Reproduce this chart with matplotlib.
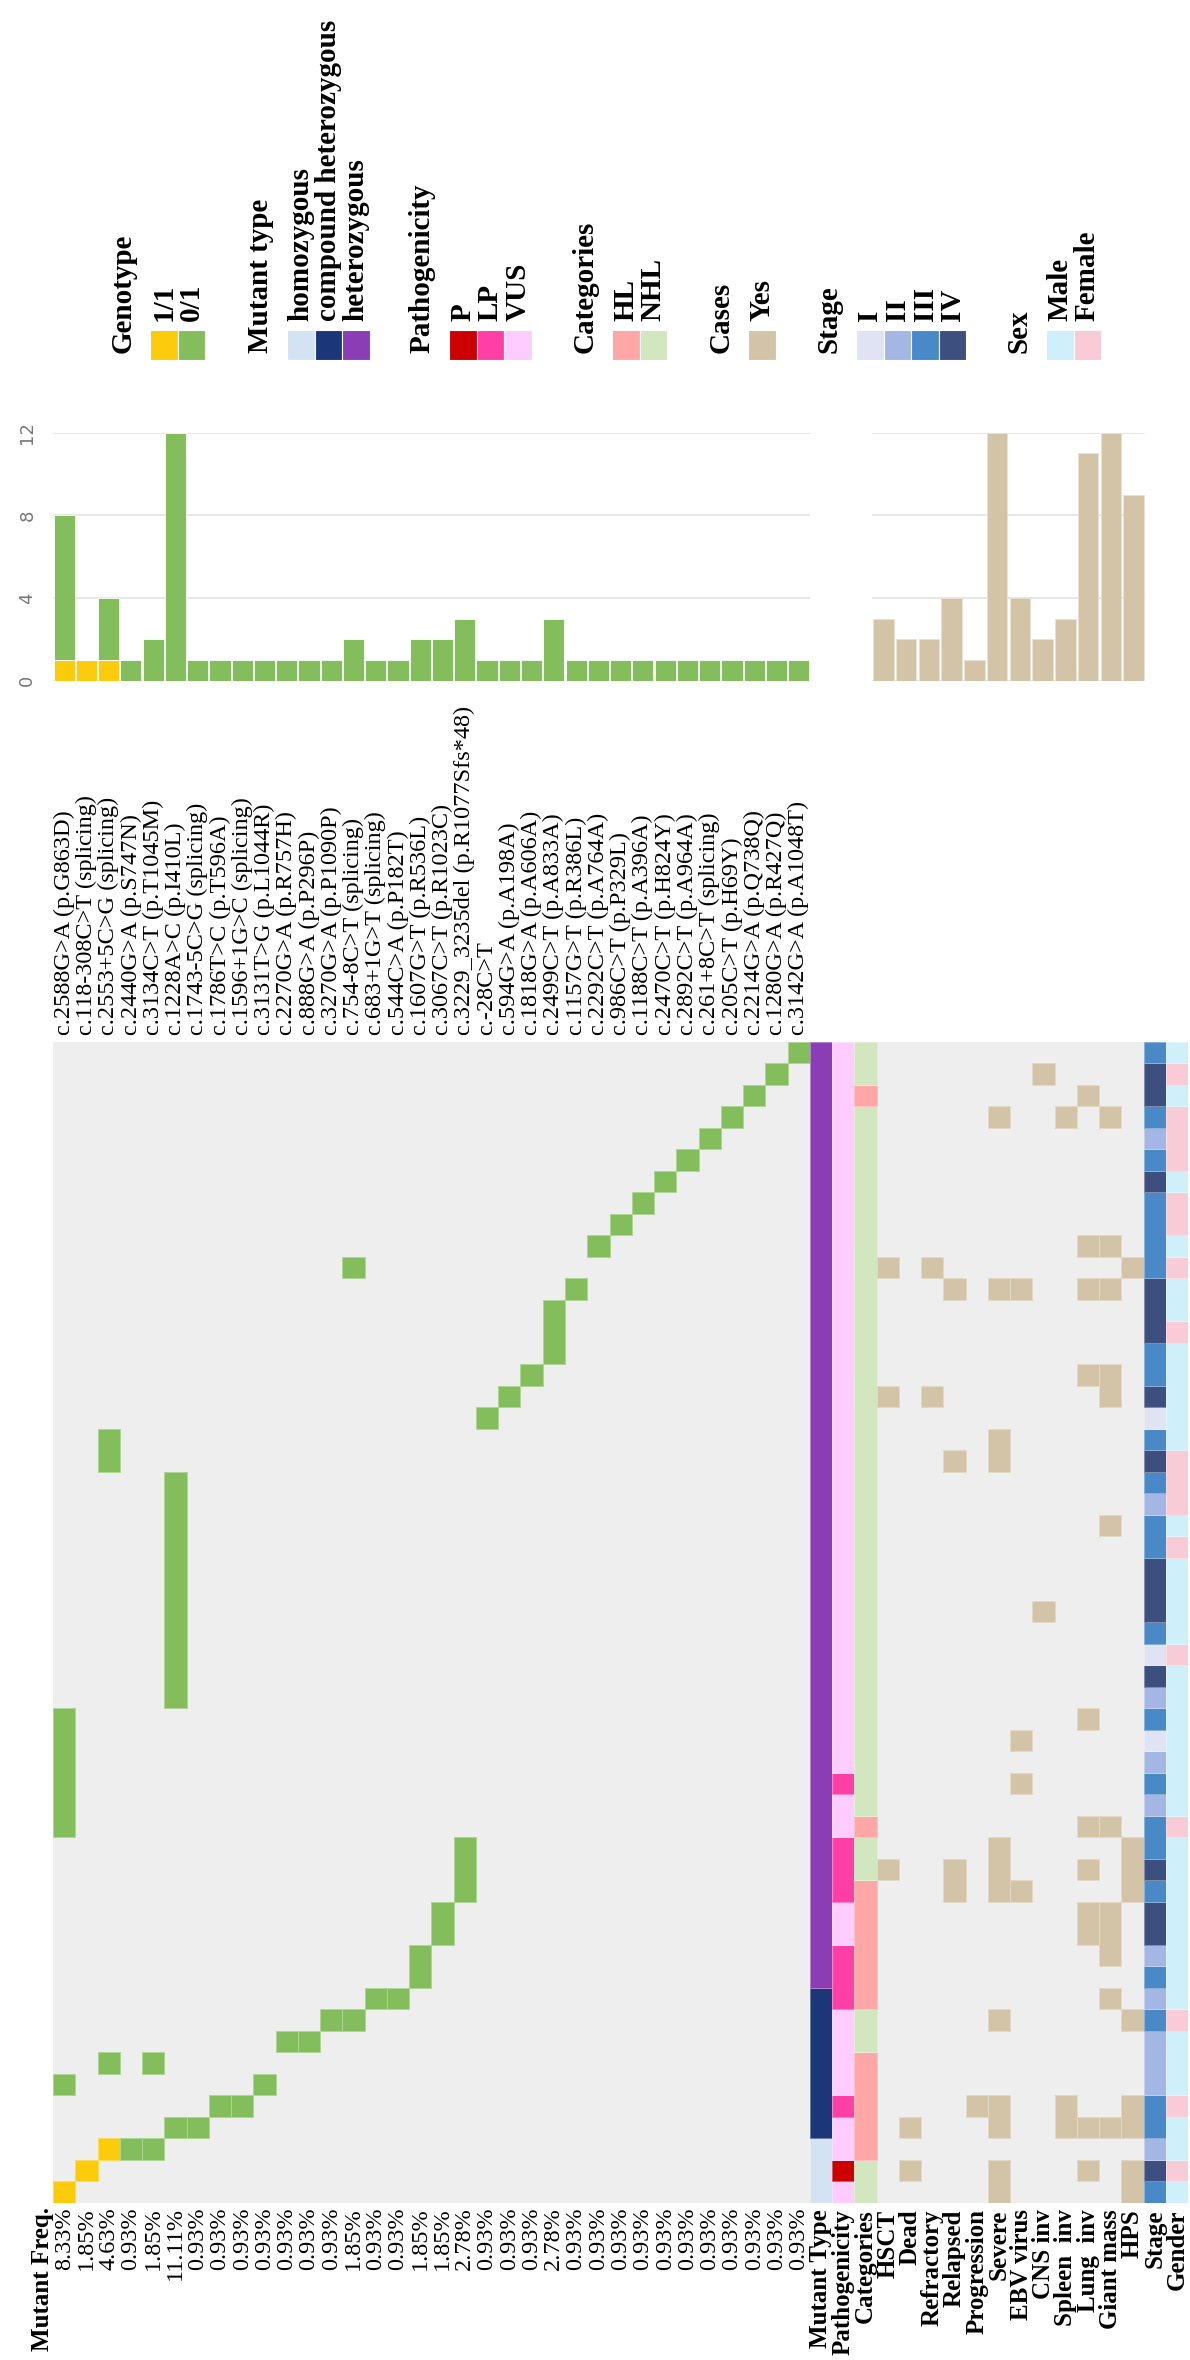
import matplotlib
matplotlib.use("Agg")
import matplotlib.pyplot as plt
from matplotlib.patches import Rectangle
from matplotlib.colors import to_rgb
import numpy as np

plt.rcParams['font.family'] = ['Liberation Serif', 'DejaVu Serif']

W, H, DPI = 1190, 2360, 100

# ---------------------------------------------------------------- variants
variants = [
    "c.2588G>A (p.G863D)", "c.118-308C>T (splicing)", "c.2553+5C>G (splicing)",
    "c.2440G>A (p.S747N)", "c.3134C>T (p.T1045M)", "c.1228A>C (p.I410L)",
    "c.1743-5C>G (splicing)", "c.1786T>C (p.T596A)", "c.1596+1G>C (splicing)",
    "c.3131T>G (p.L1044R)", "c.2270G>A (p.R757H)", "c.888G>A (p.P296P)",
    "c.3270G>A (p.P1090P)", "c.754-8C>T (splicing)", "c.683+1G>T (splicing)",
    "c.544C>A (p.P182T)", "c.1607G>T (p.R536L)", "c.3067C>T (p.R1023C)",
    "c.3229_3235del (p.R1077Sfs*48)", "c.-28C>T", "c.594G>A (p.A198A)",
    "c.1818G>A (p.A606A)", "c.2499C>T (p.A833A)", "c.1157G>T (p.R386L)",
    "c.2292C>T (p.A764A)", "c.986C>T (p.P329L)", "c.1188C>T (p.A396A)",
    "c.2470C>T (p.H824Y)", "c.2892C>T (p.A964A)", "c.261+8C>T (splicing)",
    "c.205C>T (p.H69Y)", "c.2214G>A (p.Q738Q)", "c.1280G>A (p.R427Q)",
    "c.3142G>A (p.A1048T)",
]

mutant_freq = [
    "8.33%", "1.85%", "4.63%", "0.93%", "1.85%", "11.11%", "0.93%", "0.93%",
    "0.93%", "0.93%", "0.93%", "0.93%", "0.93%", "1.85%", "0.93%", "0.93%",
    "1.85%", "1.85%", "2.78%", "0.93%", "0.93%", "0.93%", "2.78%", "0.93%",
    "0.93%", "0.93%", "0.93%", "0.93%", "0.93%", "0.93%", "0.93%", "0.93%",
    "0.93%", "0.93%",
]

# patients (numbered 1..54) carrying each variant, by genotype
hom_carriers = {0: [1], 1: [2], 2: [3]}            # genotype 1/1
het_carriers = [                                   # genotype 0/1
    [6, 18, 19, 20, 21, 22, 23], [], [7, 35, 36], [3], [3, 7],
    [4, 24, 25, 26, 27, 28, 29, 30, 31, 32, 33, 34], [4], [5], [5], [6],
    [8], [8], [9], [9, 44], [10], [10], [11, 12], [13, 14], [15, 16, 17],
    [37], [38], [39], [40, 41, 42], [43], [45], [46], [47], [48], [49],
    [50], [51], [52], [53], [54],
]

# ---------------------------------------------------------------- patients 1..54
mutant_type = (
    "hom hom hom comp comp comp comp comp comp comp "
    "het het het het het het het het het het het het het het het het het het het het "
    "het het het het het het het het het het het het het het het het het het het het "
    "het het het het"
).split()

pathogenicity = (
    "VUS P VUS VUS LP VUS VUS VUS VUS LP "
    "LP LP VUS VUS LP LP LP VUS VUS LP "
    "VUS VUS VUS VUS VUS VUS VUS VUS VUS VUS "
    "VUS VUS VUS VUS VUS VUS VUS VUS VUS VUS "
    "VUS VUS VUS VUS VUS VUS VUS VUS VUS VUS "
    "VUS VUS VUS VUS"
).split()

categories = (
    "NHL NHL HL HL HL HL HL NHL NHL HL "
    "HL HL HL HL HL NHL NHL HL NHL NHL "
    "NHL NHL NHL NHL NHL NHL NHL NHL NHL NHL "
    "NHL NHL NHL NHL NHL NHL NHL NHL NHL NHL "
    "NHL NHL NHL NHL NHL NHL NHL NHL NHL NHL "
    "NHL HL NHL NHL"
).split()

stage = (
    "III IV II III III II II II III II "
    "III II IV IV III IV III III II III "
    "II I III II IV I III IV IV IV "
    "III III II III IV III I IV III III "
    "IV IV IV III III III III IV III II "
    "III IV IV III"
).split()

sex = (
    "M F M M F M M M F M "
    "M M M M M M M F M M "
    "M M M M M F M M M M "
    "F M F F F M M M M M "
    "F M M F M F F M F F "
    "F M F M"
).split()

# clinical features: patients marked "Yes"
clinical_names = ["HSCT", "Dead", "Refractory", "Relapsed", "Progression",
                  "Severe", "EBV virus", "CNS inv", "Spleen  inv", "Lung  inv",
                  "Giant mass", "HPS"]
clinical_yes = [
    [16, 38, 44],
    [2, 4],
    [38, 44],
    [15, 16, 35, 43],
    [5],
    [1, 2, 4, 5, 9, 15, 16, 17, 35, 36, 43, 51],
    [15, 20, 22, 43],
    [28, 53],
    [4, 5, 51],
    [2, 4, 13, 14, 16, 18, 23, 39, 43, 45, 52],
    [4, 10, 12, 13, 14, 18, 32, 38, 39, 43, 45, 51],
    [1, 2, 4, 5, 9, 15, 16, 17, 44],
]

# ---------------------------------------------------------------- colours
GREY = "#EEEEEE"
GENO_COL = {"1/1": "#FBCB0C", "0/1": "#84BE5C"}
MTYPE_COL = {"hom": "#D4E3F4", "comp": "#1B3679", "het": "#8A3DB5"}
PATH_COL = {"P": "#CC0000", "LP": "#FF3EA6", "VUS": "#FFCCFF"}
CAT_COL = {"HL": "#FFA6A6", "NHL": "#D2E6C0"}
YES_COL = "#D3C4A8"
STAGE_COL = {"I": "#E0E3F3", "II": "#A4B6E3", "III": "#4A89C8", "IV": "#3D4F7E"}
SEX_COL = {"M": "#CFEFFA", "F": "#F8CBD7"}


def lighten(c, f=0.35):
    r, g, b = to_rgb(c)
    return (r + (1 - r) * f, g + (1 - g) * f, b + (1 - b) * f)


fig = plt.figure(figsize=(W / DPI, H / DPI), dpi=DPI)


def add_px_axes(left, top, right, bottom, **kw):
    return fig.add_axes([left / W, 1 - bottom / H, (right - left) / W,
                         (bottom - top) / H], **kw)


# ---------------------------------------------------------------- legend block
leg = fig.add_axes([0, 0, 1, 1])
leg.set_xlim(0, W)
leg.set_ylim(H, 0)
leg.axis("off")

legend_groups = [
    ("Genotype", ["1/1", "0/1"], [GENO_COL["1/1"], GENO_COL["0/1"]], 150),
    ("Mutant type", ["homozygous", "compound heterozygous", "heterozygous"],
     [MTYPE_COL["hom"], MTYPE_COL["comp"], MTYPE_COL["het"]], 287),
    ("Pathogenicity", ["P", "LP", "VUS"],
     [PATH_COL["P"], PATH_COL["LP"], PATH_COL["VUS"]], 449),
    ("Categories", ["HL", "NHL"], [CAT_COL["HL"], CAT_COL["NHL"]], 612),
    ("Cases", ["Yes"], [YES_COL], 748),
    ("Stage", ["I", "II", "III", "IV"],
     [STAGE_COL[k] for k in ["I", "II", "III", "IV"]], 856),
    ("Sex", ["Male", "Female"], [SEX_COL["M"], SEX_COL["F"]], 1046),
]
SW_W, SW_H, SW_TOP = 27.6, 30, 329.5
LEG_FS = 21
for title, labels, cols, x0 in legend_groups:
    leg.text(x0 - 26.5, 353, title, rotation=90, rotation_mode="anchor",
             ha="left", va="center", fontsize=LEG_FS, fontweight="bold")
    for k, (lab, col) in enumerate(zip(labels, cols)):
        xs = x0 + k * SW_W
        leg.add_patch(Rectangle((xs, SW_TOP), SW_W, SW_H, facecolor=col,
                                edgecolor="white", linewidth=0.8))
        leg.text(xs + SW_W / 2, 321, lab, rotation=90, rotation_mode="anchor",
                 ha="left", va="center", fontsize=LEG_FS, fontweight="bold")

# ---------------------------------------------------------------- main grid
n_var = len(variants)
n_pat = len(stage)
track_names = ["Mutant Type", "Pathogenicity", "Categories"] + clinical_names + \
              ["Stage", "Gender"]
n_col = n_var + len(track_names)

CELL_W, CELL_H = 22.26, 21.5
HM_L, HM_T = 53, 1041.5
hm = add_px_axes(HM_L, HM_T, HM_L + n_col * CELL_W, HM_T + n_pat * CELL_H)
hm.set_xlim(0, n_col)
hm.set_ylim(0, n_pat)
hm.set_facecolor(GREY)
for s in hm.spines.values():
    s.set_visible(False)
hm.set_xticks([])
hm.set_yticks([])


def draw_column(x, colors):
    """colors: list per patient (None = empty); consecutive equal cells merged."""
    p = 0
    while p < len(colors):
        c = colors[p]
        if c is None:
            p += 1
            continue
        q = p
        while q + 1 < len(colors) and colors[q + 1] == c:
            q += 1
        hm.add_patch(Rectangle((x, p), 1, q - p + 1, facecolor=c,
                               edgecolor=lighten(c), linewidth=0.7))
        p = q + 1


for i in range(n_var):
    col = [None] * n_pat
    for pt in het_carriers[i]:
        col[pt - 1] = GENO_COL["0/1"]
    for pt in hom_carriers.get(i, []):
        col[pt - 1] = GENO_COL["1/1"]
    draw_column(i, col)

x = n_var
draw_column(x, [MTYPE_COL[v] for v in mutant_type]); x += 1
draw_column(x, [PATH_COL[v] for v in pathogenicity]); x += 1
draw_column(x, [CAT_COL[v] for v in categories]); x += 1
for yes in clinical_yes:
    col = [None] * n_pat
    for pt in yes:
        col[pt - 1] = YES_COL
    draw_column(x, col)
    x += 1
draw_column(x, [STAGE_COL[v] for v in stage]); x += 1
draw_column(x, [SEX_COL[v] for v in sex]); x += 1

# variant names above the grid
for i, name in enumerate(variants):
    hm.annotate(name, xy=(i + 0.5, n_pat), xytext=(0, 4.5),
                textcoords="offset points", rotation=90, ha="center",
                va="bottom", fontsize=17.5, annotation_clip=False)

# frequencies and track names below the grid
for i, f in enumerate(mutant_freq):
    hm.annotate(f, xy=(i + 0.5, 0), xytext=(0, -3.2),
                textcoords="offset points", rotation=90, ha="center",
                va="top", fontsize=17.5, annotation_clip=False)
for j, name in enumerate(track_names):
    hm.annotate(name, xy=(n_var + j + 0.5, 0), xytext=(0, -5),
                textcoords="offset points", rotation=90, ha="center",
                va="top", fontsize=18, fontweight="bold",
                annotation_clip=False)
hm.annotate("Mutant Freq.", xy=(-0.45, 0), xytext=(0, -3.2),
            textcoords="offset points", rotation=90, ha="center", va="top",
            fontsize=18, fontweight="bold", annotation_clip=False)

# ---------------------------------------------------------------- variant counts
hom_counts = np.array([len(hom_carriers.get(i, [])) for i in range(n_var)])
het_counts = np.array([len(c) for c in het_carriers])
BAR_T, BAR_B = 432.5, 680.5

bx = add_px_axes(HM_L, BAR_T, HM_L + n_var * CELL_W, BAR_B)
xs = np.arange(n_var) + 0.5
bx.bar(xs, hom_counts, width=0.95, color=GENO_COL["1/1"],
       edgecolor="white", linewidth=0.6, zorder=2)
bx.bar(xs, het_counts, bottom=hom_counts, width=0.95, color=GENO_COL["0/1"],
       edgecolor="white", linewidth=0.6, zorder=2)
bx.set_xlim(0, n_var)
bx.set_ylim(0, 12)
bx.set_xticks([])
bx.set_yticks([0, 4, 8, 12])
bx.set_yticklabels(["0", "4", "8", "12"], rotation=90, va="center",
                   fontfamily="DejaVu Sans", fontsize=13, color="#777777")
bx.tick_params(axis="y", length=0, pad=12)
bx.grid(axis="y", color="#E3E3E3", linewidth=1.2)
bx.set_axisbelow(True)
bx.patch.set_alpha(0)
for s in bx.spines.values():
    s.set_visible(False)

# ---------------------------------------------------------------- clinical counts
clin_counts = [len(c) for c in clinical_yes]
cx = add_px_axes(872, BAR_T, 1145, BAR_B)
cx.bar(np.arange(len(clin_counts)), clin_counts, width=0.9, color=YES_COL,
       edgecolor="#E9E2D5", linewidth=0.6, zorder=2)
cx.set_xlim(-0.5, len(clin_counts) - 0.5)
cx.set_ylim(0, 12)
cx.set_xticks([])
cx.set_yticks([0, 4, 8, 12])
cx.set_yticklabels([])
cx.tick_params(axis="y", length=0)
cx.grid(axis="y", color="#E3E3E3", linewidth=1.2)
cx.set_axisbelow(True)
cx.patch.set_alpha(0)
for s in cx.spines.values():
    s.set_visible(False)

fig.savefig("out.png", dpi=DPI)
